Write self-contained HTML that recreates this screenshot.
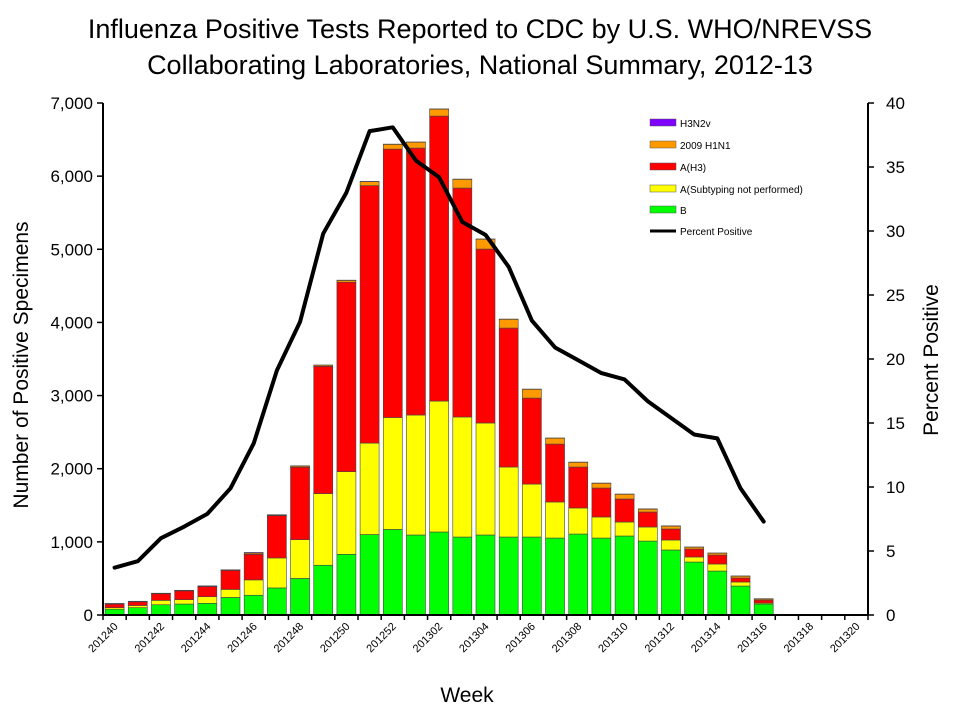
<!DOCTYPE html>
<html><head><meta charset="utf-8"><style>
body{margin:0;background:#fff;font-family:"Liberation Sans",Arial,sans-serif;}
svg text{font-family:"Liberation Sans",Arial,sans-serif;}
</style></head><body>
<svg id="chart" width="960" height="720" xmlns="http://www.w3.org/2000/svg">
<text x="480" y="38" text-anchor="middle" font-size="27">Influenza Positive Tests Reported to CDC by U.S. WHO/NREVSS</text>
<text x="480" y="74" text-anchor="middle" font-size="27">Collaborating Laboratories, National Summary, 2012-13</text>
<g id="plot"></g>
<text transform="translate(28,365) rotate(-90)" text-anchor="middle" font-size="21">Number of Positive  Specimens</text>
<text transform="translate(938,360) rotate(-90)" text-anchor="middle" font-size="21">Percent Positive</text>
<text x="467" y="702" text-anchor="middle" font-size="21">Week</text>
<g font-size="10">
<rect x="650" y="119" width="26" height="7" fill="#7f00ff" stroke="#555" stroke-width="0.5"/><text x="680" y="127">H3N2v</text>
<rect x="650" y="141" width="26" height="7" fill="#ff9900" stroke="#555" stroke-width="0.5"/><text x="680" y="149">2009 H1N1</text>
<rect x="650" y="163" width="26" height="7" fill="#ff0000" stroke="#555" stroke-width="0.5"/><text x="680" y="171">A(H3)</text>
<rect x="650" y="185" width="26" height="7" fill="#ffff00" stroke="#555" stroke-width="0.5"/><text x="680" y="193">A(Subtyping not performed)</text>
<rect x="650" y="206" width="26" height="7" fill="#00ff00" stroke="#555" stroke-width="0.5"/><text x="680" y="214">B</text>
<line x1="650" y1="231" x2="676" y2="231" stroke="#000" stroke-width="3"/><text x="680" y="235">Percent Positive</text>
</g>
</svg>
<script>
const weeks=["201240","201241","201242","201243","201244","201245","201246","201247","201248","201249","201250","201251","201252","201301","201302","201303","201304","201305","201306","201307","201308","201309","201310","201311","201312","201313","201314","201315","201316","201317","201318","201319","201320"];
const seriesB=[80,100,140,150,160,240,270,370,500,680,830,1100,1170,1094,1135,1066,1094,1066,1066,1052,1107,1052,1080,1011,889,724,601,396,150,0,0,0,0];
const seriesSub=[20,30,60,60,90,110,210,410,530,980,1130,1250,1530,1640,1790,1641,1531,957,724,493,356,288,191,192,136,69,96,55,14,0,0,0,0];
const seriesH3=[50,50,90,120,140,260,350,580,990,1740,2590,3520,3670,3650,3896,3130,2378,1900,1176,792,560,396,315,205,151,109,123,55,41,0,0,0,0];
const seriesH1N1=[5,5,5,5,5,5,15,8,15,15,25,55,65,80,95,120,135,120,120,80,65,65,65,40,40,25,25,25,15,0,0,0,0];
const seriesH3N2v=[3,3,3,3,3,3,10,3,5,3,3,3,3,3,3,3,3,3,3,3,3,3,3,3,3,3,3,3,3,0,0,0,0];
const pctPositive=[3.7,4.2,6.0,6.9,7.9,9.9,13.4,19.1,22.9,29.8,33.0,37.8,38.1,35.5,34.2,30.7,29.7,27.2,23.0,20.9,19.9,18.9,18.4,16.7,15.4,14.1,13.8,9.9,7.3];
const leftTicks=[0,1000,2000,3000,4000,5000,6000,7000];
const rightTicks=[0,5,10,15,20,25,30,35,40];
const L=103,R=868,T=103,B=615,yMax=7000,pMax=40;
const NS="http://www.w3.org/2000/svg";
const g=document.getElementById('plot');
const slot=(R-L)/weeks.length;
const xC=i=>L+slot*(i+0.5);
const y=v=>B-v/yMax*(B-T);
const yp=v=>B-v/pMax*(B-T);
function mk(tag,attrs,parent){const e=document.createElementNS(NS,tag);for(const k in attrs)e.setAttribute(k,attrs[k]);(parent||g).appendChild(e);return e;}
const stacks=[[seriesB,"#00ff00","b"],[seriesSub,"#ffff00","a-unsubtyped"],[seriesH3,"#ff0000","a-h3"],[seriesH1N1,"#ff9900","h1n1"],[seriesH3N2v,"#7f00ff","h3n2v"]];
const bw=slot*0.82;
weeks.forEach((w,i)=>{let base=0;
 stacks.forEach(([arr,col,nm])=>{const v=arr[i];if(!v){return;}
  const r=mk('rect',{x:xC(i)-bw/2,y:y(base+v),width:bw,height:y(base)-y(base+v),fill:col,stroke:"#444","stroke-width":0.6});
  
  
  base+=v;});
});
// axes
const ax=mk('line',{x1:L,y1:T,x2:L,y2:B,stroke:"#000","stroke-width":2});


const ax2=mk('line',{x1:R,y1:T,x2:R,y2:B,stroke:"#000","stroke-width":2});


const ax3=mk('line',{x1:L,y1:B,x2:R,y2:B,stroke:"#000","stroke-width":2});


leftTicks.forEach(t=>{mk('line',{x1:L-6,y1:y(t),x2:L,y2:y(t),stroke:"#000","stroke-width":1.5});
 const tx=mk('text',{x:L-10,y:y(t)+6,"text-anchor":"end","font-size":17});tx.textContent=t.toLocaleString('en-US');
 
 });
rightTicks.forEach(t=>{mk('line',{x1:R,y1:yp(t),x2:R+6,y2:yp(t),stroke:"#000","stroke-width":1.5});
 const tx=mk('text',{x:R+18,y:yp(t)+6,"text-anchor":"start","font-size":17});tx.textContent=t;
 
 });
for(let i=0;i<=weeks.length;i++){mk('line',{x1:L+slot*i,y1:B,x2:L+slot*i,y2:B+5,stroke:"#000","stroke-width":1.5});}
weeks.forEach((w,i)=>{if(i%2)return;const cx=xC(i)+4,cy=B+12;
 const tx=mk('text',{x:cx,y:cy,"text-anchor":"end","font-size":11,transform:`rotate(-45 ${cx} ${cy})`});tx.textContent=w;
 
 });
const pts=pctPositive.map((p,i)=>xC(i)+','+yp(p)).join(' ');
const ln=mk('polyline',{points:pts,fill:"none",stroke:"#000","stroke-width":4,"stroke-linejoin":"round","stroke-linecap":"round"});


</script>
</body></html>
